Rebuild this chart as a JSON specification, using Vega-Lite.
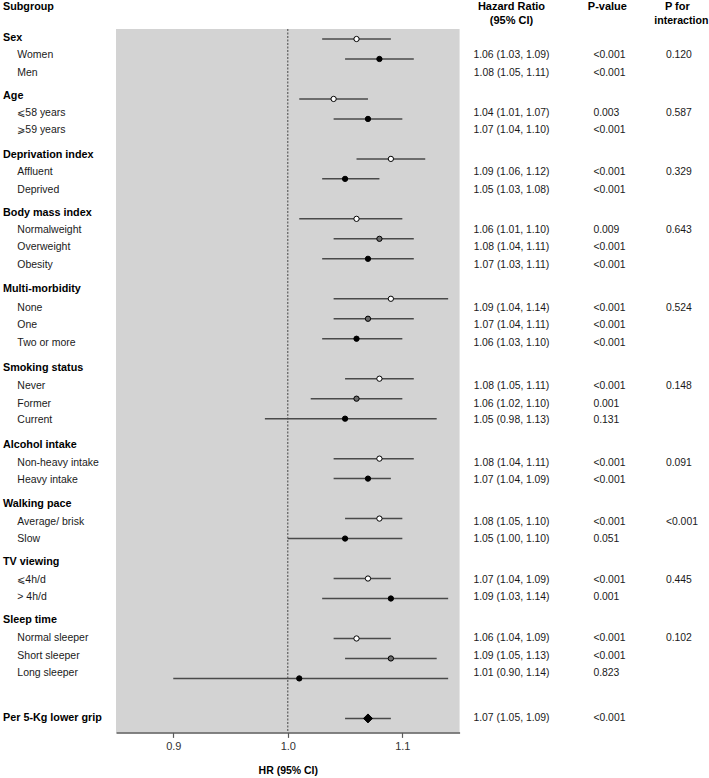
{
  "$schema": "https://vega.github.io/schema/vega-lite/v6.json",
  "padding": {"left": 0, "top": 1, "right": 0, "bottom": 0},
  "background": "white",
  "bounds": "flush",
  "spacing": 0,
  "config": {"view": {"stroke": null}, "font": "Liberation Sans", "text": {"font": "Liberation Sans"}},
  "datasets": {
    "rows": [
      {"label": "Sex", "level": "group", "line": 0},
      {"label": "Women", "level": "item", "line": 1, "row": 0, "hr": 1.06, "lo": 1.03, "hi": 1.09, "hrtext": "1.06 (1.03, 1.09)", "p": "<0.001", "pint": "0.120", "shade": "first", "marker": "circle"},
      {"label": "Men", "level": "item", "line": 2, "row": 1, "hr": 1.08, "lo": 1.05, "hi": 1.11, "hrtext": "1.08 (1.05, 1.11)", "p": "<0.001", "shade": "last", "marker": "circle"},
      {"label": "Age", "level": "group", "line": 3.3},
      {"label": "⩽58 years", "level": "item", "line": 4.3, "row": 3, "hr": 1.04, "lo": 1.01, "hi": 1.07, "hrtext": "1.04 (1.01, 1.07)", "p": "0.003", "pint": "0.587", "shade": "first", "marker": "circle"},
      {"label": "⩾59 years", "level": "item", "line": 5.3, "row": 4, "hr": 1.07, "lo": 1.04, "hi": 1.10, "hrtext": "1.07 (1.04, 1.10)", "p": "<0.001", "shade": "last", "marker": "circle"},
      {"label": "Deprivation index", "level": "group", "line": 6.7},
      {"label": "Affluent", "level": "item", "line": 7.7, "row": 6, "hr": 1.09, "lo": 1.06, "hi": 1.12, "hrtext": "1.09 (1.06, 1.12)", "p": "<0.001", "pint": "0.329", "shade": "first", "marker": "circle"},
      {"label": "Deprived", "level": "item", "line": 8.7, "row": 7, "hr": 1.05, "lo": 1.03, "hi": 1.08, "hrtext": "1.05 (1.03, 1.08)", "p": "<0.001", "shade": "last", "marker": "circle"},
      {"label": "Body mass index", "level": "group", "line": 10},
      {"label": "Normalweight", "level": "item", "line": 11, "row": 9, "hr": 1.06, "lo": 1.01, "hi": 1.10, "hrtext": "1.06 (1.01, 1.10)", "p": "0.009", "pint": "0.643", "shade": "first", "marker": "circle"},
      {"label": "Overweight", "level": "item", "line": 12, "row": 10, "hr": 1.08, "lo": 1.04, "hi": 1.11, "hrtext": "1.08 (1.04, 1.11)", "p": "<0.001", "shade": "mid", "marker": "circle"},
      {"label": "Obesity", "level": "item", "line": 13, "row": 11, "hr": 1.07, "lo": 1.03, "hi": 1.11, "hrtext": "1.07 (1.03, 1.11)", "p": "<0.001", "shade": "last", "marker": "circle"},
      {"label": "Multi-morbidity", "level": "group", "line": 14.4},
      {"label": "None", "level": "item", "line": 15.45, "row": 13, "hr": 1.09, "lo": 1.04, "hi": 1.14, "hrtext": "1.09 (1.04, 1.14)", "p": "<0.001", "pint": "0.524", "shade": "first", "marker": "circle"},
      {"label": "One", "level": "item", "line": 16.45, "row": 14, "hr": 1.07, "lo": 1.04, "hi": 1.11, "hrtext": "1.07 (1.04, 1.11)", "p": "<0.001", "shade": "mid", "marker": "circle"},
      {"label": "Two or more", "level": "item", "line": 17.45, "row": 15, "hr": 1.06, "lo": 1.03, "hi": 1.10, "hrtext": "1.06 (1.03, 1.10)", "p": "<0.001", "shade": "last", "marker": "circle"},
      {"label": "Smoking status", "level": "group", "line": 18.9},
      {"label": "Never", "level": "item", "line": 19.95, "row": 17, "hr": 1.08, "lo": 1.05, "hi": 1.11, "hrtext": "1.08 (1.05, 1.11)", "p": "<0.001", "pint": "0.148", "shade": "first", "marker": "circle"},
      {"label": "Former", "level": "item", "line": 20.95, "row": 18, "hr": 1.06, "lo": 1.02, "hi": 1.10, "hrtext": "1.06 (1.02, 1.10)", "p": "0.001", "shade": "mid", "marker": "circle"},
      {"label": "Current", "level": "item", "line": 21.9, "row": 19, "hr": 1.05, "lo": 0.98, "hi": 1.13, "hrtext": "1.05 (0.98, 1.13)", "p": "0.131", "shade": "last", "marker": "circle"},
      {"label": "Alcohol intake", "level": "group", "line": 23.3},
      {"label": "Non-heavy intake", "level": "item", "line": 24.35, "row": 21, "hr": 1.08, "lo": 1.04, "hi": 1.11, "hrtext": "1.08 (1.04, 1.11)", "p": "<0.001", "pint": "0.091", "shade": "first", "marker": "circle"},
      {"label": "Heavy intake", "level": "item", "line": 25.35, "row": 22, "hr": 1.07, "lo": 1.04, "hi": 1.09, "hrtext": "1.07 (1.04, 1.09)", "p": "<0.001", "shade": "last", "marker": "circle"},
      {"label": "Walking pace", "level": "group", "line": 26.7},
      {"label": "Average/ brisk", "level": "item", "line": 27.75, "row": 24, "hr": 1.08, "lo": 1.05, "hi": 1.10, "hrtext": "1.08 (1.05, 1.10)", "p": "<0.001", "pint": "<0.001", "shade": "first", "marker": "circle"},
      {"label": "Slow", "level": "item", "line": 28.7, "row": 25, "hr": 1.05, "lo": 1.00, "hi": 1.10, "hrtext": "1.05 (1.00, 1.10)", "p": "0.051", "shade": "last", "marker": "circle"},
      {"label": "TV viewing", "level": "group", "line": 30},
      {"label": "⩽4h/d", "level": "item", "line": 31.05, "row": 27, "hr": 1.07, "lo": 1.04, "hi": 1.09, "hrtext": "1.07 (1.04, 1.09)", "p": "<0.001", "pint": "0.445", "shade": "first", "marker": "circle"},
      {"label": "> 4h/d", "level": "item", "line": 32.05, "row": 28, "hr": 1.09, "lo": 1.03, "hi": 1.14, "hrtext": "1.09 (1.03, 1.14)", "p": "0.001", "shade": "last", "marker": "circle"},
      {"label": "Sleep time", "level": "group", "line": 33.35},
      {"label": "Normal sleeper", "level": "item", "line": 34.4, "row": 30, "hr": 1.06, "lo": 1.04, "hi": 1.09, "hrtext": "1.06 (1.04, 1.09)", "p": "<0.001", "pint": "0.102", "shade": "first", "marker": "circle"},
      {"label": "Short sleeper", "level": "item", "line": 35.4, "row": 31, "hr": 1.09, "lo": 1.05, "hi": 1.13, "hrtext": "1.09 (1.05, 1.13)", "p": "<0.001", "shade": "mid", "marker": "circle"},
      {"label": "Long sleeper", "level": "item", "line": 36.4, "row": 32, "hr": 1.01, "lo": 0.90, "hi": 1.14, "hrtext": "1.01 (0.90, 1.14)", "p": "0.823", "shade": "last", "marker": "circle"},
      {"label": "Per 5-Kg lower grip", "level": "group", "line": 38.95, "row": 34, "hr": 1.07, "lo": 1.05, "hi": 1.09, "hrtext": "1.07 (1.05, 1.09)", "p": "<0.001", "shade": "last", "marker": "diamond"}
    ],
    "headers": [
      {"col": "sub", "text": "Subgroup", "line": -1.754, "level": "group"},
      {"col": "hr", "text": "Hazard Ratio", "line": -1.754},
      {"col": "hr", "text": "(95% CI)", "line": -0.992},
      {"col": "p", "text": "P-value", "line": -1.754},
      {"col": "pint1", "text": "P for", "line": -1.754},
      {"col": "pint2", "text": "interaction", "line": -0.992}
    ],
    "refline": [{"ref": 1}]
  },
  "hconcat": [
    {
      "width": 115.7,
      "height": 703.4,
      "layer": [
        {
          "data": {"name": "rows"},
          "transform": [{"filter": "datum.level === 'item'"}],
          "mark": {"type": "text", "align": "left", "baseline": "middle", "fontSize": 10.5, "color": "#1a1a1a"},
          "encoding": {
            "x": {"field": "level", "type": "nominal", "scale": {"type": "point", "domain": ["group", "item"], "range": [3, 17.3], "padding": 0}, "axis": null},
            "y": {"field": "line", "type": "quantitative", "scale": {"domain": [-0.516, 39.79], "reverse": true, "nice": false, "zero": false}, "axis": null},
            "text": {"field": "label"}
          }
        },
        {
          "data": {"name": "rows"},
          "transform": [{"filter": "datum.level === 'group'"}],
          "mark": {"type": "text", "align": "left", "baseline": "middle", "fontSize": 10.8, "fontWeight": "bold", "color": "#000000"},
          "encoding": {
            "x": {"field": "level", "type": "nominal", "axis": null},
            "y": {"field": "line", "type": "quantitative", "axis": null},
            "text": {"field": "label"}
          }
        },
        {
          "data": {"name": "headers"},
          "transform": [{"filter": "datum.col === 'sub'"}],
          "mark": {"type": "text", "align": "left", "baseline": "middle", "fontSize": 10.8, "fontWeight": "bold", "color": "#000000"},
          "encoding": {
            "x": {"field": "level", "type": "nominal", "axis": null},
            "y": {"field": "line", "type": "quantitative", "axis": null},
            "text": {"field": "text"}
          }
        }
      ]
    },
    {
      "width": 343.6,
      "height": 703.4,
      "view": {"fill": "#d3d3d3", "stroke": null},
      "layer": [
        {
          "data": {"name": "refline"},
          "mark": {"type": "rule", "color": "#444444", "strokeWidth": 1, "strokeDash": [2, 1.5]},
          "encoding": {
            "x": {"field": "ref", "type": "quantitative", "title": "HR (95% CI)",
              "scale": {"domain": [0.85, 1.15], "nice": false, "zero": false},
              "axis": {"values": [0.9, 1.0, 1.1], "format": ".1f", "grid": false, "domainColor": "#5a5a5a", "domainWidth": 1.5, "tickColor": "#5a5a5a", "tickWidth": 1.2, "tickSize": 5, "labelFont": "Liberation Sans", "labelFontSize": 11, "labelColor": "#333333", "labelPadding": 3.5, "titleFont": "Liberation Sans", "titleFontSize": 10.5, "titleFontWeight": "bold", "titleColor": "#000000", "titlePadding": 14}}
          }
        },
        {
          "data": {"name": "rows"},
          "transform": [{"filter": "isValid(datum.hr)"}],
          "mark": {"type": "rule", "color": "#4a4a4a", "strokeWidth": 1.5},
          "encoding": {
            "x": {"field": "lo", "type": "quantitative", "title": "HR (95% CI)"},
            "x2": {"field": "hi"},
            "y": {"field": "row", "type": "quantitative", "scale": {"domain": [-0.5, 34.7], "reverse": true, "nice": false, "zero": false}, "axis": null}
          }
        },
        {
          "data": {"name": "rows"},
          "transform": [{"filter": "isValid(datum.hr)"}],
          "mark": {"type": "point", "filled": true, "stroke": "#000000", "strokeWidth": 1, "opacity": 1},
          "encoding": {
            "x": {"field": "hr", "type": "quantitative", "title": "HR (95% CI)"},
            "y": {"field": "row", "type": "quantitative", "axis": null},
            "fill": {"field": "shade", "type": "nominal", "scale": {"domain": ["first", "mid", "last"], "range": ["#ffffff", "#6b6b6b", "#000000"]}, "legend": null},
            "shape": {"field": "marker", "type": "nominal", "scale": {"domain": ["circle", "diamond"], "range": ["circle", "diamond"]}, "legend": null},
            "size": {"field": "marker", "type": "nominal", "scale": {"domain": ["circle", "diamond"], "range": [28, 80]}, "legend": null}
          }
        }
      ]
    },
    {
      "width": 103,
      "height": 703.4,
      "layer": [
        {
          "data": {"name": "rows"},
          "transform": [{"filter": "isValid(datum.hrtext)"}],
          "mark": {"type": "text", "align": "center", "baseline": "middle", "fontSize": 10.4, "color": "#1a1a1a"},
          "encoding": {
            "y": {"field": "line", "type": "quantitative", "scale": {"domain": [-0.516, 39.79], "reverse": true, "nice": false, "zero": false}, "axis": null},
            "text": {"field": "hrtext"}
          }
        },
        {
          "data": {"name": "headers"},
          "transform": [{"filter": "datum.col === 'hr'"}],
          "mark": {"type": "text", "align": "center", "baseline": "middle", "fontSize": 11, "fontWeight": "bold", "color": "#000000"},
          "encoding": {
            "y": {"field": "line", "type": "quantitative", "axis": null},
            "text": {"field": "text"}
          }
        }
      ]
    },
    {
      "width": 60.8,
      "height": 703.4,
      "layer": [
        {
          "data": {"name": "rows"},
          "transform": [{"filter": "isValid(datum.p)"}],
          "mark": {"type": "text", "align": "left", "baseline": "middle", "fontSize": 10.4, "color": "#1a1a1a"},
          "encoding": {
            "y": {"field": "line", "type": "quantitative", "scale": {"domain": [-0.516, 39.79], "reverse": true, "nice": false, "zero": false}, "axis": null},
            "text": {"field": "p"}
          }
        },
        {
          "data": {"name": "headers"},
          "transform": [{"filter": "datum.col === 'p'"}],
          "mark": {"type": "text", "align": "center", "baseline": "middle", "dx": 14, "fontSize": 11, "fontWeight": "bold", "color": "#000000"},
          "encoding": {
            "y": {"field": "line", "type": "quantitative", "axis": null},
            "text": {"field": "text"}
          }
        }
      ]
    },
    {
      "width": 83.8,
      "height": 703.4,
      "layer": [
        {
          "data": {"name": "rows"},
          "transform": [{"filter": "isValid(datum.pint)"}],
          "mark": {"type": "text", "align": "left", "baseline": "middle", "fontSize": 10.4, "color": "#1a1a1a"},
          "encoding": {
            "y": {"field": "line", "type": "quantitative", "scale": {"domain": [-0.516, 39.79], "reverse": true, "nice": false, "zero": false}, "axis": null},
            "text": {"field": "pint"}
          }
        },
        {
          "data": {"name": "headers"},
          "transform": [{"filter": "datum.col === 'pint1'"}],
          "mark": {"type": "text", "align": "left", "baseline": "middle", "dx": -1, "fontSize": 11, "fontWeight": "bold", "color": "#000000"},
          "encoding": {
            "y": {"field": "line", "type": "quantitative", "axis": null},
            "text": {"field": "text"}
          }
        },
        {
          "data": {"name": "headers"},
          "transform": [{"filter": "datum.col === 'pint2'"}],
          "mark": {"type": "text", "align": "right", "baseline": "middle", "dx": 42.5, "fontSize": 10.6, "fontWeight": "bold", "color": "#000000"},
          "encoding": {
            "y": {"field": "line", "type": "quantitative", "axis": null},
            "text": {"field": "text"}
          }
        }
      ]
    }
  ]
}
